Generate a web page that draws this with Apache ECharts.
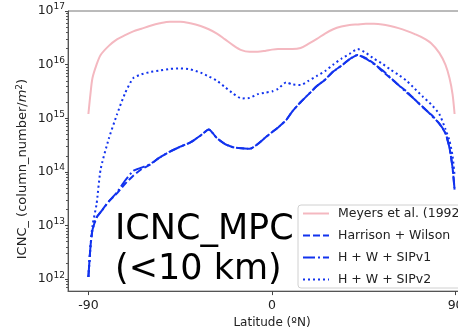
<!DOCTYPE html>
<html>
<head>
<meta charset="utf-8">
<script src="https://cdn.jsdelivr.net/npm/echarts@6/dist/echarts.min.js"></script>
<style>
  html, body { margin: 0; padding: 0; background: #fff; overflow: hidden; }
  /* the original figure is cropped on the right, so the canvas runs past the window */
  #chart { width: 476px; height: 334px; }
</style>
</head>
<body>
<div id="chart"></div>
<script>
// latitude (ºN) of the sampled points
const lats = [-90, -89, -88, -86, -84, -80, -76, -72, -68, -64, -60, -55, -50, -45, -40, -35, -31, -27, -23, -19,
  -15, -11, -7, -3, 0, 3, 7, 10, 14, 18, 22, 26, 30, 34, 38, 42, 46, 50, 54, 58,
  62, 66, 70, 74, 78, 82, 85, 87, 88.5, 89.5];

// exponents (log10 of column number per m2)
const meyersExp = [15.08, 15.45, 15.75, 16.0, 16.18, 16.35, 16.47, 16.55, 16.62, 16.67, 16.72, 16.77, 16.8, 16.8, 16.77, 16.72, 16.66, 16.58, 16.47, 16.36,
  16.27, 16.24, 16.24, 16.26, 16.28, 16.29, 16.29, 16.29, 16.31, 16.39, 16.48, 16.58, 16.66, 16.71, 16.74, 16.75, 16.76, 16.76, 16.75, 16.72,
  16.68, 16.63, 16.57, 16.5, 16.4, 16.22, 16.0, 15.75, 15.45, 15.08];
const hwExp = [12.04, 12.6, 12.92, 13.15, 13.25, 13.45, 13.6, 13.78, 13.93, 14.05, 14.13, 14.27, 14.38, 14.47, 14.55, 14.68, 14.79, 14.63, 14.52, 14.46,
  14.44, 14.43, 14.52, 14.65, 14.74, 14.83, 14.97, 15.13, 15.3, 15.45, 15.6, 15.72, 15.87, 15.98, 16.1, 16.18, 16.12, 16.02, 15.88, 15.75,
  15.62, 15.5, 15.35, 15.2, 15.07, 14.9, 14.72, 14.45, 14.08, 13.67];
const sip1Exp = [12.04, 12.6, 12.92, 13.15, 13.25, 13.45, 13.62, 13.84, 14.02, 14.08, 14.14, 14.27, 14.38, 14.47, 14.55, 14.68, 14.79, 14.63, 14.52, 14.46,
  14.44, 14.43, 14.52, 14.65, 14.74, 14.83, 14.97, 15.13, 15.3, 15.45, 15.6, 15.72, 15.87, 15.98, 16.1, 16.18, 16.11, 16.01, 15.9, 15.76,
  15.62, 15.48, 15.35, 15.21, 15.06, 14.9, 14.73, 14.45, 14.08, 13.67];
const sip2Exp = [12.04, 12.6, 13.0, 13.4, 14.05, 14.62, 15.07, 15.47, 15.75, 15.82, 15.86, 15.89, 15.92, 15.93, 15.91, 15.85, 15.78, 15.7, 15.58, 15.46,
  15.37, 15.38, 15.45, 15.48, 15.5, 15.55, 15.67, 15.63, 15.62, 15.7, 15.79, 15.88, 16.0, 16.11, 16.2, 16.29, 16.22, 16.11, 16.02, 15.91,
  15.81, 15.7, 15.55, 15.4, 15.26, 15.08, 14.8, 14.58, 14.3, 13.93];

const seriesNames = ['Meyers et al. (1992)', 'Harrison + Wilson', 'H + W + SIPv1', 'H + W + SIPv2'];
const yTicks = [1e12, 1e13, 1e14, 1e15, 1e16, 1e17];
const xTicks = [-90, 0, 90];
const minorTicks = [];
for (let e = 11; e <= 16; e++) {
  for (let m = 2; m <= 9; m++) {
    const v = m * Math.pow(10, e);
    if (v > 6e11 && v < 1e17) minorTicks.push(v);
  }
}

const toPoints = (exps) => lats.map((lat, i) => [lat, Math.pow(10, exps[i])]);

const FONT = 'DejaVu Sans';
const BLUE = '#1233ee';

const chart = echarts.init(document.getElementById('chart'));
chart.setOption({
  animation: false,
  textStyle: { fontFamily: FONT },
  grid: {
    left: 68,
    right: 0,
    top: 11,
    bottom: 35,
    show: true,
    borderColor: '#777',
    borderWidth: 1,
  },
  xAxis: {
    type: 'value',
    min: -100,
    max: 100,
    name: 'Latitude (ºN)',
    nameLocation: 'middle',
    nameGap: 17,
    nameTextStyle: { fontSize: 12, color: '#222', fontFamily: FONT },
    axisLine: { onZero: false, lineStyle: { color: '#555' } },
    axisTick: { customValues: xTicks, length: 4, lineStyle: { color: '#444' } },
    axisLabel: { customValues: xTicks, fontSize: 12.5, color: '#222', margin: 8 },
    splitLine: { show: false },
  },
  yAxis: [
    {
      type: 'log',
      min: 6e11,
      max: 1e17,
      name: 'ICNC_ (column_number/{i|m}{s|2})',
      nameLocation: 'middle',
      nameGap: 38,
      nameMoveOverlap: false,
      nameRotate: 90,
      nameTextStyle: {
        fontSize: 13,
        color: '#222',
        fontFamily: FONT,
        padding: [0, 36, 0, 0],
        rich: {
          i: { fontSize: 13, fontStyle: 'italic', color: '#222', fontFamily: FONT },
          s: { fontSize: 9, color: '#222', fontFamily: FONT, verticalAlign: 'bottom', padding: [0, 0, 6, 0] },
        },
      },
      axisLine: { show: true, onZero: false, lineStyle: { color: '#555' } },
      axisTick: { customValues: yTicks, length: 3, lineStyle: { color: '#444' } },
      axisLabel: {
        customValues: yTicks,
        margin: 3,
        color: '#222',
        formatter: (v) => '10{s|' + Math.round(Math.log10(v)) + '}',
        rich: {
          s: { fontSize: 9, color: '#222', fontFamily: FONT, verticalAlign: 'bottom', padding: [0, 0, 8, 0] },
        },
        fontSize: 12.5,
      },
      splitLine: { show: false },
    },
    {
      type: 'log',
      min: 6e11,
      max: 1e17,
      position: 'left',
      axisLine: { show: false, onZero: false },
      axisTick: { customValues: minorTicks, length: 2, lineStyle: { color: '#555' } },
      axisLabel: { show: false },
      splitLine: { show: false },
    },
  ],
  legend: {
    orient: 'vertical',
    left: 298,
    top: 205,
    padding: [2, 20, 2, 4],
    itemGap: 9,
    itemWidth: 26,
    itemHeight: 14,
    itemStyle: { color: 'transparent', borderWidth: 0 },
    backgroundColor: 'rgba(255,255,255,0.85)',
    borderColor: '#d0d0d0',
    borderWidth: 1,
    borderRadius: 3,
    textStyle: { fontSize: 12.5, color: '#222', fontFamily: FONT, padding: [0, 0, 0, 4] },
    data: seriesNames,
  },
  graphic: [
    {
      type: 'text',
      z: 100,
      style: { text: 'ICNC_MPC', x: 115, y: 229.5, font: '35px "DejaVu Sans"', fill: '#000', verticalAlign: 'middle' },
    },
    {
      type: 'text',
      z: 100,
      style: { text: '(<10 km)', x: 115, y: 269.5, font: '35px "DejaVu Sans"', fill: '#000', verticalAlign: 'middle' },
    },
  ],
  series: [
    {
      name: seriesNames[0],
      type: 'line',
      data: toPoints(meyersExp),
      symbol: 'none',
      smooth: 0.3,
      lineStyle: { color: '#f4b8c0', width: 2 },
      itemStyle: { color: '#f4b8c0' },
    },
    {
      name: seriesNames[1],
      type: 'line',
      data: toPoints(hwExp),
      symbol: 'none',
      smooth: 0.2,
      lineStyle: { color: BLUE, width: 2, type: [7, 3] },
      itemStyle: { color: BLUE },
    },
    {
      name: seriesNames[2],
      type: 'line',
      data: toPoints(sip1Exp),
      symbol: 'none',
      smooth: 0.2,
      lineStyle: { color: BLUE, width: 2, type: [12, 3, 2, 3] },
      itemStyle: { color: BLUE },
    },
    {
      name: seriesNames[3],
      type: 'line',
      data: toPoints(sip2Exp),
      symbol: 'none',
      smooth: 0.2,
      lineStyle: { color: BLUE, width: 2, type: [2, 3] },
      itemStyle: { color: BLUE },
    },
  ],
});
</script>
</body>
</html>
